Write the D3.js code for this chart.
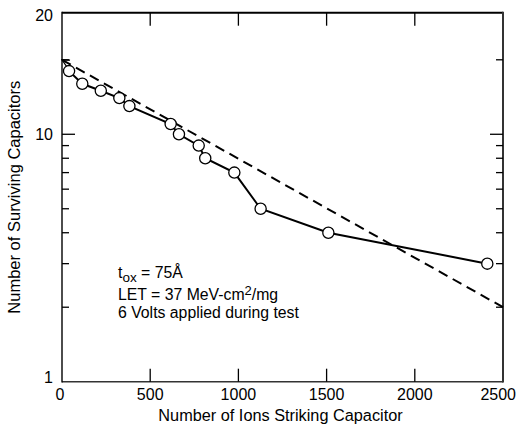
<!DOCTYPE html>
<html>
<head>
<meta charset="utf-8">
<script src="https://cdn.jsdelivr.net/npm/d3@7"></script>
<style>
  html, body { margin: 0; padding: 0; background: #fff; }
  text { font-family: "Liberation Sans", Arial, sans-serif; fill: #000; }
</style>
</head>
<body>
<svg id="chart" width="517" height="437"></svg>
<script>
// Data
const ions = [40, 115, 220, 325, 382, 616, 663, 775, 812, 977, 1126, 1510, 2411];
const surviving = [18, 16, 15, 14, 13, 11, 10, 9, 8, 7, 5, 4, 3];
const fitX = [0, 2500];
const fitY = [20, 2];
const xTicks = [0, 500, 1000, 1500, 2000, 2500];
const yMajor = [1, 10];
const yMinor = [2, 3, 4, 5, 6, 7, 8, 9, 20];
const yTopLabel = "20";

const W = 517, H = 437;
const m = { left: 62, right: 14, top: 12.7, bottom: 55.3 };
const svg = d3.select("#chart");

const x = d3.scaleLinear().domain([0, 2500]).range([m.left, W - m.right]);
const yMax = 31;
const y = d3.scaleLog().domain([1, yMax]).range([H - m.bottom, m.top]);

const x0 = x.range()[0], x1 = x.range()[1];
const y0 = y.range()[0], y1 = y.range()[1];

// Frame
svg.append("line").attr("x1", x0).attr("x2", x1).attr("y1", y1).attr("y2", y1)
  .attr("stroke", "#000").attr("stroke-width", 2);
svg.append("line").attr("x1", x0).attr("x2", x1).attr("y1", y0).attr("y2", y0)
  .attr("stroke", "#333").attr("stroke-width", 1.6);
svg.append("line").attr("x1", x0).attr("x2", x0).attr("y1", y1 - 1).attr("y2", y0 + 0.8)
  .attr("stroke", "#000").attr("stroke-width", 1.4);
svg.append("line").attr("x1", x1).attr("x2", x1).attr("y1", y1 - 1).attr("y2", y0 + 0.8)
  .attr("stroke", "#333").attr("stroke-width", 2);

// X ticks (inward, top and bottom)
const innerX = xTicks.filter(d => d > 0 && d < 2500);
innerX.forEach(d => {
  svg.append("line").attr("x1", x(d)).attr("x2", x(d)).attr("y1", y0).attr("y2", y0 - 13)
    .attr("stroke", "#000").attr("stroke-width", 1.3);
  svg.append("line").attr("x1", x(d)).attr("x2", x(d)).attr("y1", y1).attr("y2", y1 + 13)
    .attr("stroke", "#000").attr("stroke-width", 1.3);
});
xTicks.forEach(d => {
  const last = d === 2500;
  svg.append("text").attr("x", last ? W - 1 : x(d) - (d === 0 ? 2 : 0)).attr("y", y0 + 18)
    .attr("text-anchor", last ? "end" : "middle").attr("font-size", 16).text(d);
});

// Y ticks (inward, left and right)
yMajor.filter(d => d > 1).forEach(d => {
  svg.append("line").attr("x1", x0).attr("x2", x0 + 13).attr("y1", y(d)).attr("y2", y(d))
    .attr("stroke", "#000").attr("stroke-width", 1.3);
  svg.append("line").attr("x1", x1).attr("x2", x1 - 13).attr("y1", y(d)).attr("y2", y(d))
    .attr("stroke", "#000").attr("stroke-width", 1.3);
});
yMinor.forEach(d => {
  svg.append("line").attr("x1", x0).attr("x2", x0 + 7).attr("y1", y(d)).attr("y2", y(d))
    .attr("stroke", "#000").attr("stroke-width", 1.3);
  svg.append("line").attr("x1", x1).attr("x2", x1 - 7).attr("y1", y(d)).attr("y2", y(d))
    .attr("stroke", "#000").attr("stroke-width", 1.3);
});
yMajor.forEach(d => {
  svg.append("text").attr("x", x0 - 9).attr("y", y(d) + (d === 1 ? 1 : 6))
    .attr("text-anchor", "end").attr("font-size", 16).text(d);
});
svg.append("text").attr("x", x0 - 9).attr("y", y(yMax) + 8)
  .attr("text-anchor", "end").attr("font-size", 16).text(yTopLabel);

// Axis titles
svg.append("text").attr("x", (x0 + x1) / 2 - 2).attr("y", 421)
  .attr("text-anchor", "middle").attr("font-size", 16.3).text("Number of Ions Striking Capacitor");
svg.append("text").attr("transform", `translate(20,${(y0 + y1) / 2}) rotate(-90)`)
  .attr("text-anchor", "middle").attr("font-size", 16.5).text("Number of Surviving Capacitors");

// Dashed fit line with arrow at the start
const defs = svg.append("defs");
defs.append("marker").attr("id", "arr").attr("viewBox", "0 0 10 10")
  .attr("refX", 1).attr("refY", 5).attr("markerWidth", 9).attr("markerHeight", 9)
  .attr("markerUnits", "userSpaceOnUse").attr("orient", "auto")
  .append("path").attr("d", "M9,1 L1,5 L9,9").attr("fill", "none")
  .attr("stroke", "#000").attr("stroke-width", 1.4);

const fitData = fitX.map((d, i) => [d, fitY[i]]);
svg.append("path").datum(fitData)
  .attr("d", d3.line().x(d => x(d[0])).y(d => y(d[1])))
  .attr("fill", "none").attr("stroke", "#000").attr("stroke-width", 2)
  .attr("stroke-dasharray", "10,6").attr("marker-start", "url(#arr)");

// Data line and markers
const pts = ions.map((d, i) => [d, surviving[i]]);
svg.append("path").datum(pts)
  .attr("d", d3.line().x(d => x(d[0])).y(d => y(d[1])))
  .attr("fill", "none").attr("stroke", "#000").attr("stroke-width", 2);
svg.selectAll("circle.pt").data(pts).enter().append("circle")
  .attr("class", "pt").attr("cx", d => x(d[0])).attr("cy", d => y(d[1])).attr("r", 5.6)
  .attr("fill", "#fff").attr("stroke", "#000").attr("stroke-width", 1.3);

// Annotation
const ann = svg.append("g").attr("font-size", 15.8);
const t1 = ann.append("text").attr("x", 118).attr("y", 278);
t1.append("tspan").text("t");
t1.append("tspan").attr("dy", 4).attr("font-size", 13.5).text("ox");
t1.append("tspan").attr("dy", -4).text(" = 75Å");
const t2 = ann.append("text").attr("x", 118).attr("y", 300);
t2.append("tspan").text("LET = 37 MeV-cm");
t2.append("tspan").attr("dy", -5).attr("font-size", 13).text("2");
t2.append("tspan").attr("dy", 5).text("/mg");
ann.append("text").attr("x", 118).attr("y", 318).text("6 Volts applied during test");
</script>
</body>
</html>
